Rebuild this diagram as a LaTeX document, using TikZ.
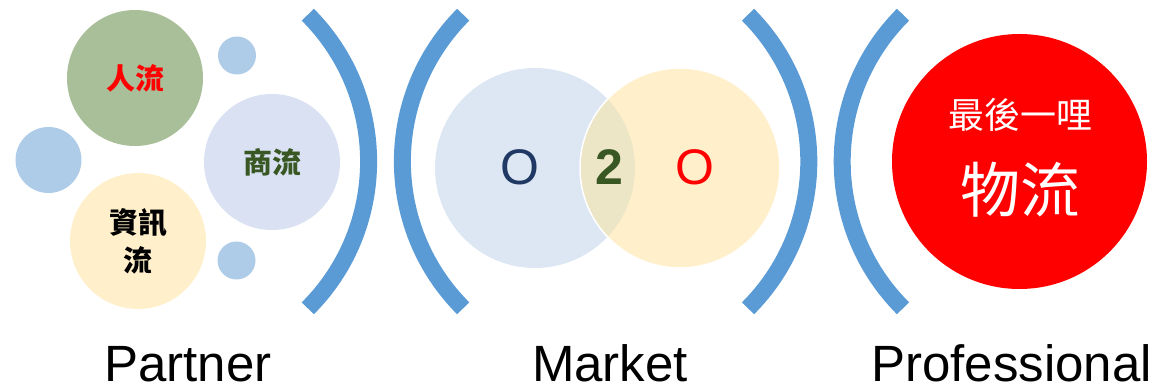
\documentclass[tikz,border=0pt]{standalone}
\usepackage{fontspec}
\setmainfont{Liberation Sans}
\newfontfamily\cjk{Noto Sans CJK TC}
\usepackage{xcolor}
\usepackage{tikz}
\definecolor{arcblue}{HTML}{5B9BD5}
\definecolor{dotblue}{HTML}{AECBE8}
\definecolor{sage}{HTML}{A9BF99}
\definecolor{lavender}{HTML}{D9E1F2}
\definecolor{cream}{HTML}{FFF0CB}
\definecolor{paleblue}{HTML}{DCE7F3}
\definecolor{lens}{HTML}{ECE6C7}
\definecolor{navy}{HTML}{1F3864}
\definecolor{leaf}{HTML}{385723}

\begin{document}
\begin{tikzpicture}[x=1pt, y=1pt,
  bubble/.style={circle, inner sep=0pt, minimum size=136pt, align=center,
    font=\cjk\bfseries\fontsize{29}{38}\selectfont},
  dot/.style={circle, inner sep=0pt, fill=dotblue},
  paren/.style={draw=arcblue, line width=17pt},
  big/.style={font=\fontsize{50}{60}\selectfont},
  caption/.style={anchor=base, inner sep=0pt, font=\fontsize{51}{60}\selectfont}]
  \useasboundingbox (0,0) rectangle (1168,391);

  \node[bubble, fill=sage, text=red] (ren) at (135,313) {人流};
  \node[bubble, fill=lavender, text=leaf] (shang) at (272,229) {商流};
  \node[bubble, fill=cream] (zixun) at (138,150) {資訊\\流};
  \node[dot, minimum size=38pt] (dottop) at (237,335.5) {};
  \node[dot, minimum size=66pt] (dotleft) at (48.5,231) {};
  \node[dot, minimum size=38pt] (dotbot) at (236.5,130.5) {};

  \draw[paren] (307.8,82.7) arc[start angle=-45, end angle=45, radius=207.6];
  \draw[paren] (463.2,376.3) arc[start angle=135, end angle=225, radius=207.6];
  \draw[paren] (748,82.7) arc[start angle=-45, end angle=45, radius=207.6];
  \draw[paren] (903,376.3) arc[start angle=135, end angle=225, radius=207.6];

  \fill[paleblue] (535,223) circle[radius=100];
  \fill[cream] (680,223) circle[radius=100];
  \begin{scope}
    \clip (535,223) circle[radius=100];
    \fill[lens] (680,223) circle[radius=100];
  \end{scope}
  \draw[white, line width=1.5pt] (680,223) circle[radius=100];
  \node[big, text=navy] (online) at (520,224) {O};
  \node[big, text=leaf, font=\bfseries\fontsize{50}{60}\selectfont] (two) at (609,224) {2};
  \node[big, text=red] (offline) at (695,224) {O};

  \node[circle, inner sep=0pt, minimum size=255pt, fill=red] (wuliu) at (1019.5,229.5) {};
  \node[text=white, font=\cjk\fontsize{36}{40}\selectfont] (last) at (1020,276) {最後一哩};
  \node[text=white, font=\cjk\fontsize{60}{66}\selectfont] (flow) at (1020,201) {物流};

  \node[caption] (partner) at (188,9) {Partner};
  \node[caption] (market) at (610,9) {Market};
  \node[caption] (prof) at (1011.5,9) {Professional};
\end{tikzpicture}
\end{document}
